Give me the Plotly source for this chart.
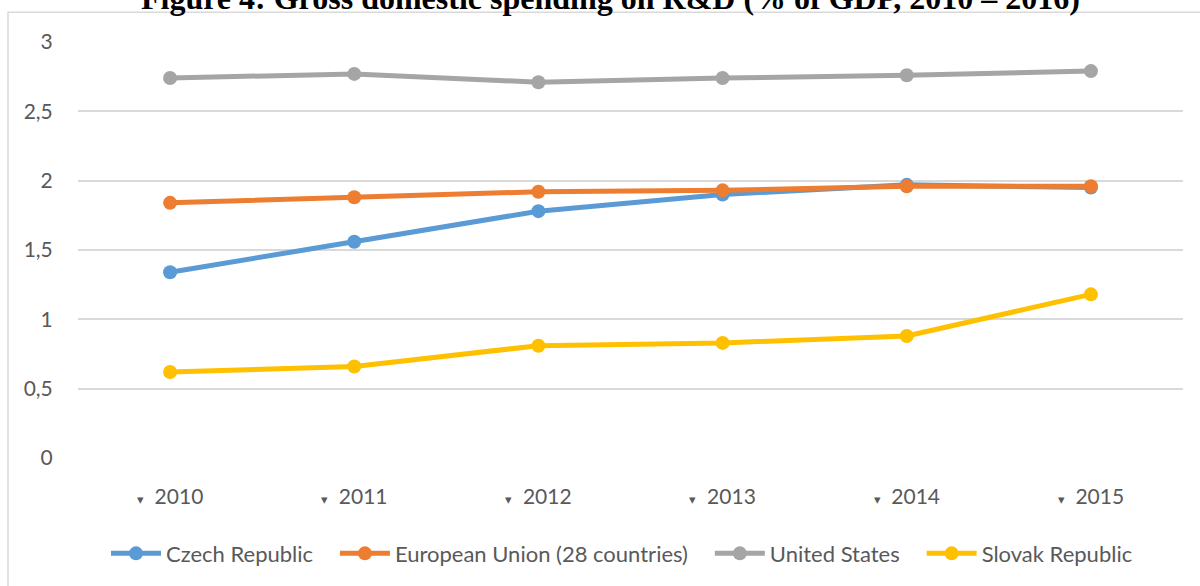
import plotly.graph_objects as go

years = ["2010", "2011", "2012", "2013", "2014", "2015"]
czech = [1.34, 1.56, 1.78, 1.90, 1.97, 1.95]
eu28 = [1.84, 1.88, 1.92, 1.93, 1.96, 1.96]
usa = [2.74, 2.77, 2.71, 2.74, 2.76, 2.79]
slovak = [0.62, 0.66, 0.81, 0.83, 0.88, 1.18]

series = [
    ("Czech Republic", czech, "#5B9BD5"),
    ("European Union (28 countries)", eu28, "#ED7D31"),
    ("United States", usa, "#A5A5A5"),
    ("Slovak Republic", slovak, "#FFC000"),
]

W, H = 1200, 586
L, R, T, B = 78, 17, 42, 126
pw, ph = W - L - R, H - T - B

def px_x(x):
    return (x - L) / pw

def px_y(y):
    return (H - B - y) / ph

fig = go.Figure()
xs = list(range(len(years)))
for name, vals, color in series:
    fig.add_trace(go.Scatter(
        x=xs, y=vals, name=name + "\u00a0\u00a0\u00a0", mode="lines+markers",
        line=dict(color=color, width=5),
        marker=dict(color=color, size=14),
    ))

ticktext = ["<span style='font-size:13px'>▾</span>  " + y for y in years]

fig.update_layout(
    width=W, height=H,
    margin=dict(l=L, r=R, t=T, b=B),
    paper_bgcolor="white", plot_bgcolor="white",
    font=dict(family="Lato", color="#595959", size=21),
    showlegend=True,
    legend=dict(orientation="h", x=0.5, xanchor="center",
                y=px_y(556), yanchor="middle",
                font=dict(size=22, color="#595959"),
                itemwidth=50, tracegroupgap=0),
    xaxis=dict(range=[-0.5, 5.5], tickvals=xs, ticktext=ticktext,
               showgrid=False, zeroline=False, showline=False,
               ticks="outside", ticklen=20, tickcolor="rgba(0,0,0,0)",
               fixedrange=True),
    yaxis=dict(range=[0, 3], tickvals=[0, 0.5, 1, 1.5, 2, 2.5, 3],
               ticktext=["0", "0,5", "1", "1,5", "2", "2,5", "3"],
               showgrid=True, gridcolor="#D9D9D9", gridwidth=1.5,
               zeroline=False, showline=False,
               ticks="outside", ticklen=20, tickcolor="rgba(0,0,0,0)"),
    shapes=[dict(type="rect", xref="paper", yref="paper",
                 x0=px_x(8), x1=px_x(1300), y0=px_y(700), y1=px_y(12),
                 line=dict(color="#D9D9D9", width=1.5), layer="below")],
    annotations=[dict(text="<b>Figure 4: Gross domestic spending on R&amp;D (% of GDP, 2010 – 2016)</b>",
                      xref="paper", yref="paper", x=px_x(610), y=px_y(-2),
                      xanchor="center", yanchor="middle", showarrow=False,
                      font=dict(family="Liberation Serif", size=32, color="black"))],
)

fig.write_html("out.html")
